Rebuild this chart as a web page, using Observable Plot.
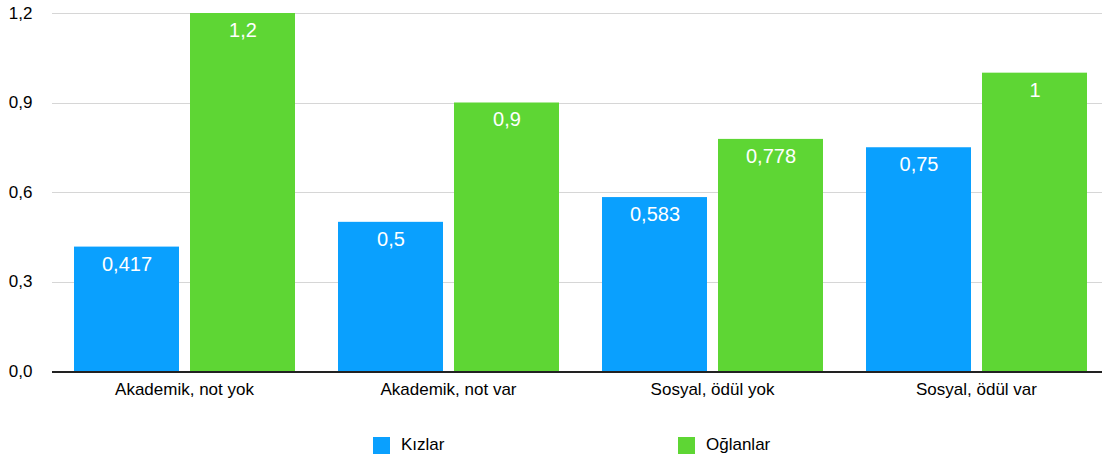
<!DOCTYPE html>
<html>
<head>
<meta charset="utf-8">
<script src="https://cdn.jsdelivr.net/npm/d3@7"></script>
<script src="https://cdn.jsdelivr.net/npm/@observablehq/plot@0.6"></script>
<style>
  html, body { margin: 0; padding: 0; background: #fff; }
  body { width: 1102px; height: 461px; position: relative; font-family: "Liberation Sans", Arial, sans-serif; }
  #chart { position: absolute; left: 0; top: 0; }
  .legend { position: absolute; top: 435px; left: 0; width: 1102px; height: 22px; font-size: 17px; color: #000; }
  .item { position: absolute; display: flex; align-items: center; }
  .sw { width: 17px; height: 17px; margin-right: 11px; }
</style>
</head>
<body>
<div id="chart"></div>
<div class="legend" id="legend"></div>
<script>
const categories = ["Akademik, not yok", "Akademik, not var", "Sosyal, ödül yok", "Sosyal, ödül var"];
const seriesNames = ["Kızlar", "Oğlanlar"];
const kizlar = [0.417, 0.5, 0.583, 0.75];
const oglanlar = [1.2, 0.9, 0.778, 1];
const yTicks = [0, 0.3, 0.6, 0.9, 1.2];
const colors = ["#0aa0fe", "#5ed634"];

const data = [];
categories.forEach((c, i) => {
  data.push({category: c, series: seriesNames[0], value: kizlar[i]});
  data.push({category: c, series: seriesNames[1], value: oglanlar[i]});
});

const fmt = v => String(v).replace(".", ",");

const chart = Plot.plot({
  width: 1102,
  height: 415,
  marginLeft: 52,
  marginRight: 0,
  marginTop: 13,
  marginBottom: 44,
  style: {fontFamily: "'Liberation Sans', Arial, sans-serif", fontSize: "17px", color: "#000", background: "#fff"},
  fx: {domain: categories, paddingInner: 0.16, paddingOuter: 0.0662, align: 0.57, label: null},
  x: {domain: seriesNames, paddingInner: 0.095, paddingOuter: 0, axis: null},
  y: {domain: [0, 1.2], label: null},
  color: {domain: seriesNames, range: colors},
  marks: [
    Plot.ruleY(yTicks.slice(1), {stroke: "#d6d6d6", strokeWidth: 1, insetLeft: -21.2, insetRight: -21.2, shapeRendering: "crispEdges"}),
    Plot.barY(data, {fx: "category", x: "series", y: "value", fill: "series"}),
    Plot.text(data, {fx: "category", x: "series", y: "value", text: d => fmt(d.value), fill: "#fff", fontSize: 20, dy: 17}),
    Plot.ruleY([0], {stroke: "#222", strokeWidth: 2, insetLeft: -21.2, insetRight: -21.2, shapeRendering: "crispEdges"}),
    Plot.axisY(yTicks, {tickSize: 0, tickPadding: 41, fontSize: 17, fill: "#000", tickFormat: d => d3.format(".1f")(d).replace(".", ","), label: null}),
    Plot.axisFx({anchor: "bottom", tickSize: 0, tickPadding: 11, fontSize: 17, fill: "#000", label: null})
  ]
});
document.getElementById("chart").appendChild(chart);

const legend = document.getElementById("legend");
const lx = [373, 678];
seriesNames.forEach((s, i) => {
  const item = document.createElement("div");
  item.className = "item";
  item.style.left = lx[i] + "px";
  const sw = document.createElement("div");
  sw.className = "sw";
  sw.style.background = colors[i];
  const t = document.createElement("span");
  t.textContent = s;
  item.appendChild(sw);
  item.appendChild(t);
  legend.appendChild(item);
});
</script>
</body>
</html>
